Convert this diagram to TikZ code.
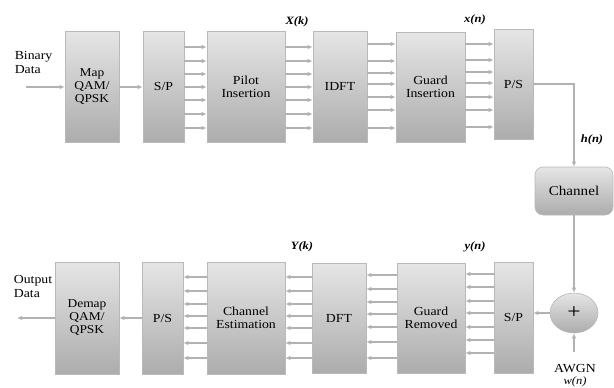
\documentclass[tikz,border=0pt]{standalone}
\usepackage{fontspec}
\setmainfont{Liberation Serif}[FakeStretch=1.12]
\usetikzlibrary{arrows.meta,shapes.geometric}
\tikzset{
  blk/.style={draw=gray!55, line width=0.6pt, top color=gray!20, bottom color=gray!65, minimum height=111pt, inner sep=1pt, align=center, font=\fontsize{12.3}{13.3}\selectfont},
  arr/.style={draw=gray!60, line width=1.3pt, -{Latex[length=5pt,width=4.5pt]}},
  lab/.style={font=\fontsize{11.2}{12}\selectfont\bfseries\itshape},
  txt/.style={font=\fontsize{12.3}{14}\selectfont, align=left, inner sep=0pt}
}
\begin{document}
\begin{tikzpicture}[x=1pt,y=-1pt]
\useasboundingbox (0,0) rectangle (614,388);
% top row
\node[blk, minimum width=54pt, font=\fontsize{12}{13}\selectfont] (map) at (92,86.5) {Map\\QAM/\\QPSK};
\node[blk, minimum width=41pt] (sp1) at (163.5,86.5) {S/P};
\node[blk, minimum width=78pt] (pil) at (246,86.5) {Pilot\\Insertion};
\node[blk, minimum width=54pt] (idft) at (340,86.5) {IDFT};
\node[blk, minimum width=69pt, minimum height=110pt] (gi) at (430.5,87) {Guard\\Insertion};
\node[blk, minimum width=39pt, minimum height=110pt] (ps1) at (513.5,84) {P/S};
% channel and adder
\node[blk, minimum width=78pt, minimum height=48pt, rounded corners=8pt, font=\fontsize{13.5}{14}\selectfont] (chan) at (574,191) {Channel};
\node[ellipse, draw=gray!55, line width=0.6pt, top color=gray!20, bottom color=gray!65, minimum width=48pt, minimum height=40pt, inner sep=0pt, font=\fontsize{21}{21}\selectfont] (add) at (574,313) {+};
% bottom row
\node[blk, minimum width=64pt, minimum height=112pt, font=\fontsize{12}{13}\selectfont] (dem) at (87,318) {Demap\\QAM/\\QPSK};
\node[blk, minimum width=41pt, minimum height=112pt] (ps2) at (162.5,318) {P/S};
\node[blk, minimum width=78pt, minimum height=112pt] (ce) at (246,318) {Channel\\Estimation};
\node[blk, minimum width=54pt, minimum height=110pt] (dft) at (339,318) {DFT};
\node[blk, minimum width=68pt, minimum height=110pt] (gr) at (431,318) {Guard\\Removed};
\node[blk, minimum width=39pt, minimum height=111pt] (sp2) at (513.5,317.5) {S/P};
% texts
\node[txt] (bin) at (33.5,62.5) {Binary\\Data};
\node[txt] (out) at (33,286.5) {Output\\Data};
\node[lab] (lXk) at (297,22) {X(k)};
\node[lab] (lxn) at (475,20) {x(n)};
\node[lab] (lYk) at (302,247) {Y(k)};
\node[lab] (lyn) at (475,247) {y(n)};
\node[lab] (lhn) at (592,140) {h(n)};
\node[txt, font=\fontsize{12.3}{14}\selectfont] (awgn) at (575,369) {AWGN};
\node[lab, font=\fontsize{11.2}{12}\selectfont\itshape] (lwn) at (575,382) {w(n)};
\coordinate (binstart) at (26,87);
\coordinate (outend) at (17,318);
\coordinate (awgnstart) at (574,352);
% connectors top
\draw[arr] (binstart) -- (map.west |- binstart);
\draw[arr] (map.east |- binstart) -- (sp1.west |- binstart);
\foreach \y in {47,61,74,87,100,114,128} {
  \draw[arr] (0,\y -| sp1.east) -- (0,\y -| pil.west);
  \draw[arr] (0,\y -| pil.east) -- (0,\y -| idft.west);
}
\foreach \y in {44,61,73,84,97,110,128} {
  \draw[arr] (0,\y -| idft.east) -- (0,\y -| gi.west);
}
\foreach \y in {44,60,72,83,97,110,127} {
  \draw[arr] (0,\y -| gi.east) -- (0,\y -| ps1.west);
}
\draw[arr] (ps1.east) -| (chan.north);
\draw[arr] (chan.south) -- (add.north);
\draw[arr] (awgnstart) -- (add.south);
\draw[arr] (add.west) -- (sp2.east |- add.west);
% connectors bottom
\foreach \y in {274,287,301,313,327,340,353} {
  \draw[arr] (0,\y -| sp2.west) -- (0,\y -| gr.east);
}
\foreach \y in {275,289,302,314,327,342,358} {
  \draw[arr] (0,\y -| gr.west) -- (0,\y -| dft.east);
}
\foreach \y in {277,291,304,316,328,343,358} {
  \draw[arr] (0,\y -| dft.west) -- (0,\y -| ce.east);
  \draw[arr] (0,\y -| ce.west) -- (0,\y -| ps2.east);
}
\draw[arr] (ps2.west |- outend) -- (dem.east |- outend);
\draw[arr] (dem.west |- outend) -- (outend);
\end{tikzpicture}
\end{document}
